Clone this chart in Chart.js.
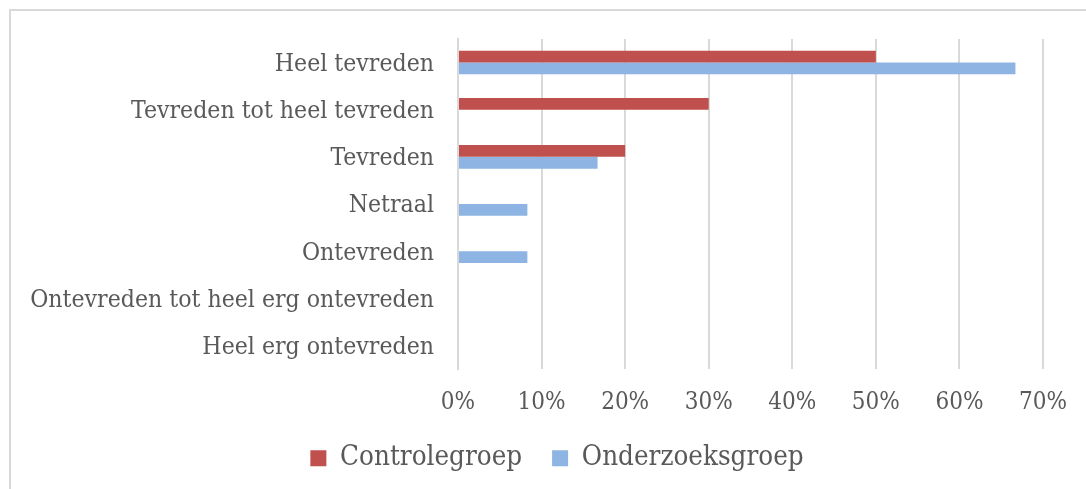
<!DOCTYPE html>
<html lang="nl">
<head>
  <meta charset="UTF-8">
  <title>Tevredenheid</title>
  <script src="https://cdn.jsdelivr.net/npm/chart.js"></script>
  <style>
    html, body { margin: 0; padding: 0; overflow: hidden; background: #fff; }
    #frame { position: absolute; left: 9px; top: 9px; width: 1100px; height: 500px; border: 2px solid #d9d9d9; }
    #wrap { position: absolute; left: 0; top: 0; width: 1086px; height: 489px; }
  </style>
</head>
<body>
  <div id="frame"></div>
  <div id="wrap"><canvas id="chart"></canvas></div>

  <script>
    const categories = [
      'Heel tevreden',
      'Tevreden tot heel tevreden',
      'Tevreden',
      'Netraal',
      'Ontevreden',
      'Ontevreden tot heel erg ontevreden',
      'Heel erg ontevreden'
    ];
    const controlegroep = [50, 30, 20, 0, 0, 0, 0];
    const onderzoeksgroep = [66.7, 0, 16.7, 8.3, 8.3, 0, 0];
    const xTicks = [0, 10, 20, 30, 40, 50, 60, 70];

    const serif = "'DejaVu Serif Condensed', 'DejaVu Serif', serif";
    const textColor = '#595959';
    const gridColor = '#d9d9d9';

    new Chart(document.getElementById('chart'), {
      type: 'bar',
      data: {
        labels: categories,
        datasets: [
          { label: 'Controlegroep', data: controlegroep, backgroundColor: '#c0504d' },
          { label: 'Onderzoeksgroep', data: onderzoeksgroep, backgroundColor: '#8db4e2' }
        ]
      },
      options: {
        indexAxis: 'y',
        responsive: true,
        maintainAspectRatio: false,
        animation: false,
        categoryPercentage: 0.5,
        barPercentage: 1,
        layout: { padding: { top: 39, right: 0, bottom: 7, left: 28 } },
        scales: {
          x: {
            min: 0,
            max: 70,
            afterBuildTicks: (scale) => { scale.ticks = xTicks.map(v => ({ value: v })); },
            afterFit: (scale) => { scale.height = 45.5; },
            grid: { color: gridColor, lineWidth: 2, drawTicks: false, tickLength: 0 },
            border: { display: false },
            ticks: {
              color: textColor,
              font: { family: serif, size: 24 },
              padding: 19,
              callback: (v) => v + '%'
            }
          },
          y: {
            afterFit: (scale) => { scale.width = 430; },
            grid: { display: false, drawTicks: false },
            border: { color: gridColor, width: 2 },
            ticks: {
              color: textColor,
              font: { family: serif, size: 24.6 },
              padding: 24,
              labelOffset: 2
            }
          },
          // empty strip on the right so the plot ends at 70%
          yRight: {
            type: 'category',
            position: 'right',
            afterFit: (scale) => { scale.width = 42; },
            grid: { display: false, drawTicks: false },
            border: { display: false },
            ticks: { display: false }
          }
        },
        plugins: {
          legend: {
            position: 'bottom',
            labels: {
              color: textColor,
              font: { family: serif, size: 27.5 },
              boxWidth: 16,
              boxHeight: 16,
              padding: 30
            }
          },
          tooltip: { enabled: false }
        }
      }
    });
  </script>
</body>
</html>
